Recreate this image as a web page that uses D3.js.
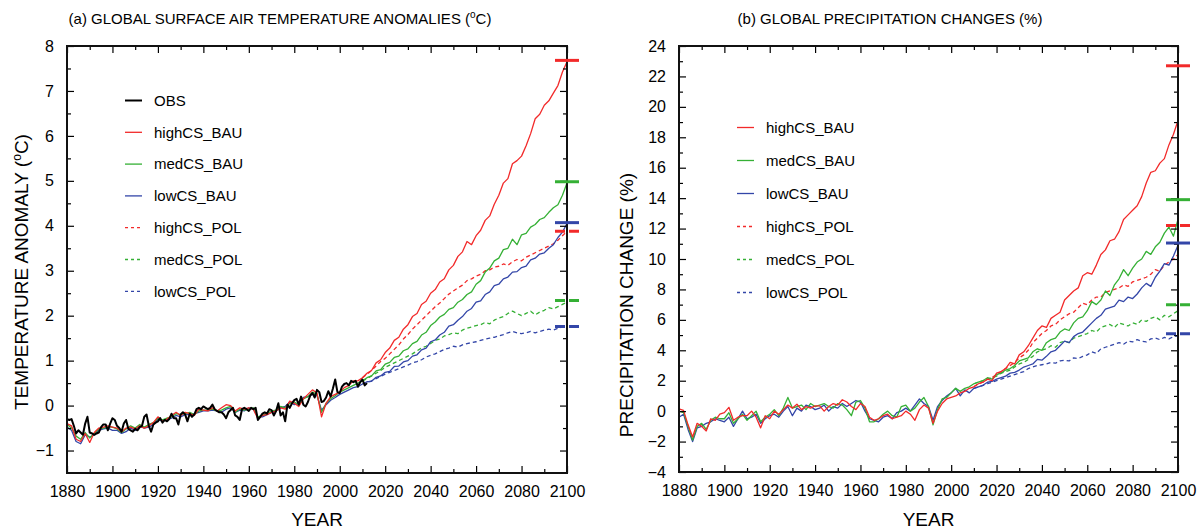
<!DOCTYPE html>
<html><head><meta charset="utf-8">
<script src="https://cdn.jsdelivr.net/npm/d3@7"></script>
<style>
body{margin:0;background:#fff}
svg{display:block}
text{font-family:"Liberation Sans",Arial,Helvetica,sans-serif;fill:#000}
</style>
</head><body>
<svg id="chart" width="1203" height="529"></svg>
<script>
// ---------------- DATA ----------------
const histYears = d3.range(1880, 2011, 2);   // 1880..2010 (2-yr)
const futYears  = d3.range(2012, 2101, 2);   // 2012..2100 (2-yr)
const obsYears  = d3.range(1880, 2013, 1);   // 1880..2012 annual

const xMajorTicks = [1880,1900,1920,1940,1960,1980,2000,2020,2040,2060,2080,2100];
const tempTicks = [-1,0,1,2,3,4,5,6,7,8];
const precTicks = [-4,-2,0,2,4,6,8,10,12,14,16,18,20,22,24];

const scenarioNames = ["highCS_BAU","medCS_BAU","lowCS_BAU","highCS_POL","medCS_POL","lowCS_POL"];

// Temperature anomalies (°C)
const tempObs = [
-0.30,-0.32,-0.30,-0.45,-0.62,-0.55,-0.60,-0.65,-0.40,-0.25,
-0.60,-0.62,-0.65,-0.62,-0.60,-0.48,-0.42,-0.42,-0.55,-0.40,
-0.28,-0.32,-0.45,-0.50,-0.58,-0.40,-0.32,-0.52,-0.55,-0.58,
-0.52,-0.55,-0.48,-0.45,-0.25,-0.20,-0.45,-0.58,-0.42,-0.38,
-0.35,-0.28,-0.38,-0.32,-0.35,-0.30,-0.18,-0.28,-0.28,-0.42,
-0.20,-0.15,-0.20,-0.35,-0.18,-0.25,-0.20,-0.08,-0.05,-0.08,
-0.02,-0.05,-0.08,-0.05,0.02,-0.08,-0.12,-0.15,-0.15,-0.20,
-0.28,-0.15,-0.10,-0.05,-0.22,-0.25,-0.32,-0.08,-0.05,-0.08,
-0.12,-0.05,-0.08,-0.05,-0.32,-0.25,-0.18,-0.15,-0.18,-0.08,
-0.10,-0.22,-0.12,0.05,-0.22,-0.15,-0.35,0.02,-0.05,0.05,
0.12,0.15,0.02,0.20,0.02,-0.02,0.08,0.22,0.28,0.18,
0.35,0.30,0.08,0.10,0.18,0.32,0.20,0.38,0.58,0.30,
0.28,0.42,0.48,0.50,0.45,0.55,0.52,0.55,0.42,0.52,
0.58,0.45,0.50];

const tempHighHist = [
-0.40,-0.45,-0.75,-0.80,-0.62,-0.82,-0.60,-0.50,-0.48,-0.45,
-0.48,-0.50,-0.58,-0.50,-0.48,-0.52,-0.45,-0.50,-0.45,-0.38,
-0.25,-0.35,-0.30,-0.22,-0.15,-0.22,-0.15,-0.18,-0.22,-0.08,
-0.10,-0.12,-0.05,-0.12,-0.05,0.02,0.00,-0.12,-0.05,-0.08,
-0.05,-0.08,-0.30,-0.22,-0.20,-0.15,-0.12,-0.05,-0.08,0.10,
0.05,-0.02,0.15,0.25,0.35,0.28,-0.25,0.05,0.20,0.25,
0.30,0.40,0.45,0.55,0.55,0.62];
const tempMedHist = [
-0.42,-0.50,-0.68,-0.75,-0.60,-0.72,-0.62,-0.52,-0.50,-0.48,
-0.48,-0.52,-0.60,-0.52,-0.45,-0.50,-0.42,-0.48,-0.42,-0.38,
-0.28,-0.32,-0.28,-0.25,-0.18,-0.20,-0.18,-0.15,-0.20,-0.12,
-0.10,-0.10,-0.08,-0.12,-0.10,-0.05,-0.02,-0.15,-0.08,-0.10,
-0.08,-0.05,-0.25,-0.22,-0.18,-0.12,-0.10,-0.02,-0.05,0.05,
0.08,0.02,0.15,0.20,0.30,0.25,-0.15,0.05,0.15,0.22,
0.30,0.35,0.40,0.45,0.50,0.55];
const tempLowHist = [
-0.48,-0.55,-0.80,-0.85,-0.65,-0.70,-0.65,-0.55,-0.52,-0.50,
-0.55,-0.55,-0.62,-0.58,-0.50,-0.55,-0.45,-0.50,-0.48,-0.42,
-0.30,-0.35,-0.30,-0.28,-0.22,-0.25,-0.20,-0.20,-0.18,-0.15,
-0.12,-0.12,-0.10,-0.12,-0.15,-0.08,-0.05,-0.15,-0.10,-0.12,
-0.05,-0.08,-0.25,-0.25,-0.20,-0.15,-0.12,-0.05,-0.02,0.08,
0.02,0.05,0.18,0.20,0.25,0.22,-0.10,0.02,0.12,0.18,
0.25,0.30,0.35,0.40,0.42,0.48];

const tempHighBAU = [0.72,0.78,0.95,1.02,1.18, 1.28,1.45,1.52,1.70,1.80, 1.98,2.05,2.25,2.32,2.50, 2.58,2.75,2.82,3.02,3.12, 3.32,3.42,3.65,3.58,3.78, 3.90,4.12,4.22,4.48,4.68, 4.95,5.05,5.38,5.45,5.55, 5.78,6.05,6.38,6.48,6.68, 6.78,6.95,7.12,7.42,7.65];
const tempMedBAU  = [0.62,0.66,0.77,0.80,0.92, 0.96,1.07,1.10,1.22,1.26, 1.38,1.43,1.57,1.63,1.78, 1.86,1.97,2.03,2.14,2.18, 2.30,2.36,2.47,2.53,2.70, 2.78,2.97,3.06,3.22,3.28, 3.47,3.50,3.70,3.58,3.80, 3.83,3.97,4.03,4.14,4.18, 4.30,4.40,4.47,4.68,4.95];
const tempLowBAU  = [0.53,0.54,0.63,0.66,0.74, 0.76,0.87,0.88,0.97,1.00, 1.10,1.13,1.24,1.28,1.42, 1.46,1.57,1.63,1.77,1.80, 1.90,1.98,2.10,2.16,2.30, 2.33,2.47,2.53,2.67,2.70, 2.82,2.86,2.97,2.98,3.07, 3.10,3.24,3.28,3.37,3.40, 3.50,3.58,3.74,3.86,4.05];
const tempHighPOL = [0.70,0.78,0.88,0.98,1.05, 1.15,1.25,1.35,1.48,1.58, 1.70,1.80,1.90,2.00,2.10, 2.20,2.28,2.38,2.48,2.55, 2.62,2.68,2.78,2.82,2.88, 2.92,3.00,3.02,3.08,3.10, 3.15,3.12,3.20,3.25,3.22, 3.30,3.35,3.40,3.45,3.50, 3.55,3.60,3.68,3.78,3.88];
const tempMedPOL  = [0.60,0.66,0.72,0.78,0.85, 0.90,0.95,1.00,1.05,1.10, 1.15,1.22,1.28,1.32,1.38, 1.45,1.48,1.55,1.58,1.62, 1.60,1.68,1.72,1.75,1.78, 1.80,1.85,1.82,1.90,1.95, 1.98,2.05,2.10,2.05,2.00, 2.05,2.10,2.02,2.08,2.12, 2.18,2.15,2.20,2.25,2.30];
const tempLowPOL  = [0.52,0.55,0.60,0.65,0.70, 0.74,0.78,0.82,0.86,0.90, 0.95,0.98,1.02,1.08,1.12, 1.15,1.20,1.25,1.28,1.32, 1.30,1.35,1.38,1.40,1.42, 1.45,1.48,1.50,1.52,1.55, 1.58,1.62,1.65,1.62,1.60, 1.62,1.65,1.62,1.65,1.68, 1.70,1.68,1.72,1.75,1.76];
const tempMarkers = [7.68, 4.98, 4.07, 3.88, 2.34, 1.76];

// Precipitation changes (%)
const precHighHist = [
0.15,0.05,-0.90,-1.70,-0.80,-1.00,-1.30,-0.50,-0.60,-0.20,
-0.10,0.25,-0.60,-0.40,-0.30,-0.30,0.00,-0.40,-1.10,-0.30,
-0.50,0.00,-0.20,0.10,0.40,0.20,0.45,0.10,0.30,0.20,
0.35,0.35,0.00,0.30,0.50,0.40,0.75,0.60,0.30,0.10,
0.50,0.30,-0.40,-0.60,-0.50,-0.30,-0.20,-0.50,-0.40,-0.30,
0.00,-0.20,-0.60,0.10,0.40,0.20,-0.80,0.00,0.50,0.80,
0.90,1.00,1.20,1.30,1.50,1.60];
const precMedHist = [
0.0,-0.1,-1.0,-1.9,-1.0,-0.8,-1.2,-0.6,-0.4,-0.5,
-0.5,-0.1,-0.8,-0.5,-0.2,-0.6,-0.3,0.0,-0.7,-0.4,
-0.2,0.1,-0.3,0.2,0.9,0.2,0.3,0.4,0.1,0.5,
0.3,0.4,0.5,0.3,0.2,0.5,0.4,0.1,-0.3,0.6,
0.7,0.2,-0.7,-0.7,-0.5,-0.2,0.0,-0.3,-0.4,0.3,
0.4,0.0,0.2,0.6,0.9,0.3,-0.9,0.1,0.8,0.9,
1.2,1.5,1.3,1.5,1.6,1.8];
const precLowHist = [
-0.4,-0.2,-1.2,-2.0,-1.1,-1.0,-0.8,-0.7,-0.5,-0.6,
-0.7,-0.4,-1.0,-0.5,0.0,-0.5,-0.4,-0.2,-0.8,-0.5,
-0.3,-0.2,-0.4,0.0,0.3,-0.3,0.2,0.0,0.4,0.3,
0.1,0.2,0.4,0.0,0.3,0.2,0.5,0.3,0.5,0.7,
0.6,0.0,-0.5,-0.6,-0.7,-0.4,-0.3,-0.5,-0.1,0.0,
0.2,0.0,0.4,0.8,0.5,0.3,-0.6,0.3,0.7,1.0,
1.2,1.5,1.0,1.4,1.2,1.5];

const precHighBAU = [1.8,1.9,2.1,2.0,2.5, 2.6,2.8,3.2,3.1,3.7, 3.9,4.3,4.8,5.3,5.6, 5.5,6.1,6.3,6.5,7.3, 7.6,7.9,8.1,8.9,9.1, 9.0,9.6,10.3,10.6,11.2, 11.3,11.8,12.6,12.9,13.2, 13.5,14.1,15.0,15.7,15.8, 16.3,16.6,17.5,18.2,19.1];
const precMedBAU  = [1.9,2.0,2.2,2.1,2.4, 2.5,2.7,2.8,3.0,3.3, 3.4,3.5,3.9,4.1,4.0, 4.5,4.7,4.8,5.2,5.4, 5.3,5.8,6.1,6.2,6.6, 7.2,7.0,7.3,7.9,7.6, 8.3,8.7,9.3,8.9,9.4, 9.8,10.0,10.5,10.3,10.8, 11.1,11.7,12.1,11.5,12.6];
const precLowBAU  = [1.6,1.7,1.9,1.95,2.1, 2.2,2.3,2.5,2.55,2.7, 2.9,3.0,3.1,3.4,3.35, 3.6,3.9,4.0,4.3,4.6, 4.5,4.9,5.1,5.2,5.5, 5.8,6.1,6.3,6.7,6.8, 6.9,7.3,7.2,7.5,7.4, 7.7,8.1,8.4,8.2,8.8, 9.2,9.7,9.6,10.2,10.9];
const precHighPOL = [1.8,1.9,2.1,2.2,2.4, 2.6,2.8,3.0,3.2,3.5, 3.7,4.0,4.5,4.8,5.1, 5.3,5.6,5.7,6.0,6.2, 6.4,6.5,6.8,7.1,7.0, 7.3,7.5,7.5,7.8,7.9, 8.0,8.1,8.3,8.2,8.5, 8.6,8.7,8.8,9.0,9.3, 9.2,9.6,9.8,10.0,10.3];
const precMedPOL  = [1.9,2.0,2.1,2.2,2.3, 2.5,2.6,2.7,2.9,3.1, 3.2,3.4,3.6,3.9,4.0, 4.1,4.3,4.2,4.5,4.6, 4.5,4.8,4.9,5.0,5.1, 5.3,5.2,5.5,5.6,5.7, 5.5,5.8,5.7,5.6,5.8, 5.7,6.0,5.9,6.1,6.2, 6.0,6.3,6.2,6.4,6.6];
const precLowPOL  = [1.6,1.7,1.8,1.9,2.0, 2.1,2.2,2.3,2.4,2.5, 2.6,2.8,2.9,3.0,3.05, 3.1,3.2,3.15,3.3,3.35, 3.3,3.5,3.45,3.6,3.7, 3.9,3.8,4.1,4.2,4.3, 4.4,4.5,4.4,4.6,4.55, 4.7,4.6,4.55,4.75,4.8, 4.7,4.85,4.75,4.9,4.95];
const precMarkers = [22.7, 13.9, 11.05, 12.2, 7.0, 5.08];

// ---------------- STYLE ----------------
const colors = {high:"#f22a2a", med:"#35b035", low:"#3346a8"};
const scenStyle = [
  {c:colors.high, dash:null}, {c:colors.med, dash:null}, {c:colors.low, dash:null},
  {c:colors.high, dash:"4,3"}, {c:colors.med, dash:"4,3"}, {c:colors.low, dash:"4,3"}
];

const svg = d3.select("#chart");

function pairs(years, vals){ return years.map((y,i)=>[y, vals[i]]); }

function drawPanel(cfg){
  const x = d3.scaleLinear().domain([1880,2100]).range([cfg.x0, cfg.x1]);
  const y = d3.scaleLinear().domain(cfg.yDomain).range([cfg.yBot, cfg.yTop]);
  const g = svg.append("g");
  const line = d3.line().x(d=>x(d[0])).y(d=>y(d[1]));

  const hist = cfg.hist; // [high, med, low]
  const fut = cfg.fut;   // 6 arrays
  const series = [];
  for (let k=0;k<3;k++){
    series.push(pairs(histYears, hist[k]).concat(pairs(futYears, fut[k])));
  }
  for (let k=0;k<3;k++){
    const h = hist[k];
    series.push([[histYears[histYears.length-1], h[h.length-1]]].concat(pairs(futYears, fut[k+3])));
  }
  const order = [5,4,3,2,1,0];
  order.forEach(i=>{
    g.append("path").datum(series[i])
      .attr("fill","none").attr("stroke",scenStyle[i].c)
      .attr("stroke-width",1.3)
      .attr("stroke-dasharray",scenStyle[i].dash)
      .attr("stroke-linejoin","round")
      .attr("d",line);
  });
  if (cfg.obs){
    g.append("path").datum(pairs(obsYears, cfg.obs))
      .attr("fill","none").attr("stroke","#000").attr("stroke-width",2)
      .attr("stroke-linejoin","round").attr("d",line);
  }

  const xMinor = d3.range(1890, 2100, 20);
  const yMinor = cfg.yMinor;
  function styleAxis(sel){ sel.select(".domain").remove(); sel.selectAll("line").attr("stroke","#000").attr("stroke-width",1.2); sel.selectAll("text").attr("font-size",16).attr("fill","#000").style("font-family",'"Liberation Sans",Arial,sans-serif'); }
  g.append("g").attr("transform",`translate(0,${cfg.yBot})`)
    .call(d3.axisBottom(x).tickValues(xMajorTicks).tickSizeInner(-7).tickSizeOuter(0).tickPadding(13).tickFormat(d3.format("d"))).call(styleAxis);
  g.append("g").attr("transform",`translate(0,${cfg.yBot})`)
    .call(d3.axisBottom(x).tickValues(xMinor).tickSizeInner(-4).tickSizeOuter(0).tickFormat("")).call(styleAxis);
  g.append("g").attr("transform",`translate(0,${cfg.yTop})`)
    .call(d3.axisTop(x).tickValues(xMajorTicks).tickSizeInner(-7).tickSizeOuter(0).tickFormat("")).call(styleAxis);
  g.append("g").attr("transform",`translate(0,${cfg.yTop})`)
    .call(d3.axisTop(x).tickValues(xMinor).tickSizeInner(-4).tickSizeOuter(0).tickFormat("")).call(styleAxis);
  g.append("g").attr("transform",`translate(${cfg.x0},0)`)
    .call(d3.axisLeft(y).tickValues(cfg.yTicks).tickSizeInner(-7).tickSizeOuter(0).tickPadding(13).tickFormat(d3.format("d"))).call(styleAxis);
  g.append("g").attr("transform",`translate(${cfg.x0},0)`)
    .call(d3.axisLeft(y).tickValues(yMinor).tickSizeInner(-4).tickSizeOuter(0).tickFormat("")).call(styleAxis);
  g.append("g").attr("transform",`translate(${cfg.x1},0)`)
    .call(d3.axisRight(y).tickValues(cfg.yTicks).tickSizeInner(-7).tickSizeOuter(0).tickFormat("")).call(styleAxis);
  g.append("g").attr("transform",`translate(${cfg.x1},0)`)
    .call(d3.axisRight(y).tickValues(yMinor).tickSizeInner(-4).tickSizeOuter(0).tickFormat("")).call(styleAxis);

  g.append("rect").attr("x",cfg.x0).attr("y",cfg.yTop)
    .attr("width",cfg.x1-cfg.x0).attr("height",cfg.yBot-cfg.yTop)
    .attr("fill","none").attr("stroke","#111").attr("stroke-width",2);

  cfg.markers.forEach((v,i)=>{
    g.append("line").attr("x1",cfg.x1-12).attr("x2",cfg.x1+12)
      .attr("y1",y(v)).attr("y2",y(v))
      .attr("stroke",scenStyle[i].c).attr("stroke-width",3)
      .attr("stroke-dasharray", scenStyle[i].dash ? "10,4" : null);
  });

  const items = [];
  if (cfg.obs) items.push({name:"OBS", c:"#000", dash:null, w:2});
  scenarioNames.forEach((n,i)=>items.push({name:n, c:scenStyle[i].c, dash:scenStyle[i].dash ? "3,3" : null, w:1.3}));
  items.forEach((it,i)=>{
    const ly = cfg.legY + i*cfg.legStep;
    g.append("line").attr("x1",cfg.x0+58).attr("x2",cfg.x0+75).attr("y1",ly).attr("y2",ly)
      .attr("stroke",it.c).attr("stroke-width",it.w).attr("stroke-dasharray",it.dash);
    g.append("text").attr("x",cfg.x0+87).attr("y",ly).attr("dy","0.35em")
      .attr("font-size",15).text(it.name);
  });

  const cx = (cfg.x0+cfg.x1)/2;
  const t = g.append("text").attr("x",cfg.titleX).attr("y",24).attr("text-anchor","middle").attr("font-size",15);
  cfg.title(t);
  g.append("text").attr("x",cx).attr("y",526).attr("text-anchor","middle").attr("font-size",19).text("YEAR");
  const yt = g.append("text").attr("transform",`translate(${cfg.yLabX},${cfg.yLabY}) rotate(-90)`)
    .attr("text-anchor","middle").attr("font-size",19);
  cfg.yLabel(yt);
}

drawPanel({
  x0:67, x1:567, yTop:46, yBot:473, yDomain:[-1.5,8],
  yTicks:tempTicks, yMinor:d3.range(-0.5, 8, 1),
  hist:[tempHighHist,tempMedHist,tempLowHist],
  fut:[tempHighBAU,tempMedBAU,tempLowBAU,tempHighPOL,tempMedPOL,tempLowPOL],
  obs:tempObs, markers:tempMarkers,
  legY:100.5, legStep:31.8,
  titleX:280,
  title:t=>{ t.append("tspan").text("(a) GLOBAL SURFACE AIR TEMPERATURE ANOMALIES ("); t.append("tspan").attr("font-size",10).attr("dy",-6).text("o"); t.append("tspan").attr("dy",6).text("C)"); },
  yLabX:28, yLabY:272,
  yLabel:t=>{ t.append("tspan").text("TEMPERATURE ANOMALY ("); t.append("tspan").attr("font-size",12).attr("dy",-7).text("o"); t.append("tspan").attr("dy",7).text("C)"); }
});

drawPanel({
  x0:679, x1:1178, yTop:46, yBot:472, yDomain:[-4,24],
  yTicks:precTicks, yMinor:d3.range(-3, 24, 2),
  hist:[precHighHist,precMedHist,precLowHist],
  fut:[precHighBAU,precMedBAU,precLowBAU,precHighPOL,precMedPOL,precLowPOL],
  obs:null, markers:precMarkers,
  legY:127.5, legStep:33,
  titleX:890,
  title:t=>{ t.text("(b) GLOBAL PRECIPITATION CHANGES (%)"); },
  yLabX:633, yLabY:305,
  yLabel:t=>{ t.text("PRECIPITATION CHANGE (%)"); }
});
</script>
</body></html>
